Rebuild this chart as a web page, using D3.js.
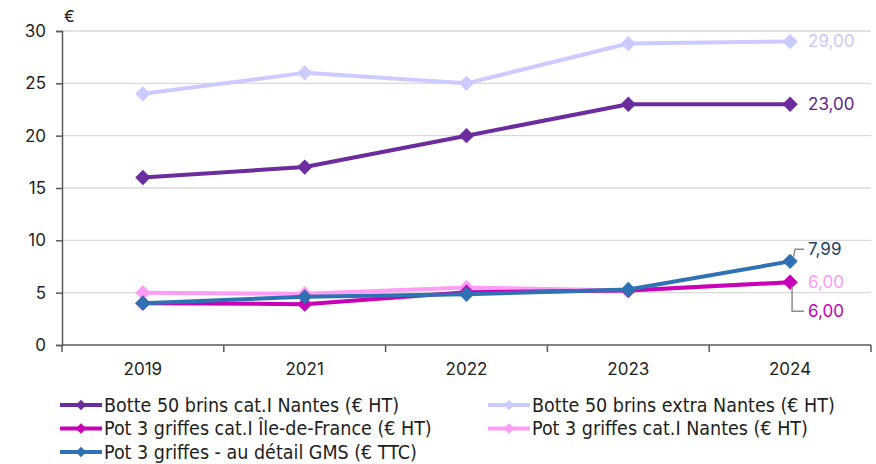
<!DOCTYPE html>
<html>
<head>
<meta charset="utf-8">
<script src="https://cdn.jsdelivr.net/npm/d3@7"></script>
<style>
  body { margin: 0; background: #fff; }
  svg { display: block; }
</style>
</head>
<body>
<script>
// data
var years = ["2019", "2021", "2022", "2023", "2024"];
var botteCatI = [16, 17, 20, 23, 23];
var botteExtra = [24, 26, 25, 28.8, 29];
var potIdf = [4, 3.9, 5.05, 5.2, 6];
var potNantes = [5, 4.9, 5.5, 5.2, 6];
var potGms = [4, 4.6, 4.85, 5.3, 7.99];
var yTicks = [0, 5, 10, 15, 20, 25, 30];

var series = [
  {name: "Botte 50 brins extra Nantes (€ HT)", values: botteExtra, color: "#cccbff", labelColor: "#c9c8fb"},
  {name: "Pot 3 griffes cat.I Nantes (€ HT)", values: potNantes, color: "#ff9cf5", labelColor: "#fc9bf2"},
  {name: "Pot 3 griffes cat.I Île-de-France (€ HT)", values: potIdf, color: "#c800b8", labelColor: "#c400b4"},
  {name: "Pot 3 griffes - au détail GMS (€ TTC)", values: potGms, color: "#2e72b3", labelColor: "#1d3f66"},
  {name: "Botte 50 brins cat.I Nantes (€ HT)", values: botteCatI, color: "#6b2c9e", labelColor: "#5e2590"}
];

var width = 876, height = 464;
var margin = {left: 62, right: 5, top: 31, bottom: 119};

var svg = d3.select("body").append("svg")
    .attr("width", width)
    .attr("height", height);

var x = d3.scaleBand()
    .domain(years)
    .range([margin.left, width - margin.right]);

var y = d3.scaleLinear()
    .domain([0, 30])
    .range([height - margin.bottom, margin.top]);

// grid
svg.append("g")
    .selectAll("line")
    .data(yTicks.filter(function(d) { return d > 0; }))
    .enter().append("line")
    .attr("x1", margin.left)
    .attr("x2", width - margin.right)
    .attr("y1", function(d) { return y(d); })
    .attr("y2", function(d) { return y(d); })
    .attr("stroke", "#d9d9d9")
    .attr("stroke-width", 1.3);

// y axis
var yAxis = svg.append("g")
    .attr("transform", "translate(" + margin.left + ",0)")
    .call(d3.axisLeft(y).tickValues(yTicks).tickSize(6).tickPadding(10));
yAxis.select(".domain").attr("stroke", "#595959").attr("stroke-width", 1.5);
yAxis.selectAll(".tick line").attr("stroke", "#595959").attr("stroke-width", 1.5);
yAxis.selectAll("text")
    .attr("font-family", "Inter, 'Open Sans', sans-serif")
    .attr("font-size", 17)
    .attr("fill", "#1e1e1e");

// x axis with ticks at band edges
var xAxisG = svg.append("g")
    .attr("transform", "translate(0," + y(0) + ")");
xAxisG.append("line")
    .attr("x1", margin.left).attr("x2", width - margin.right)
    .attr("stroke", "#595959").attr("stroke-width", 1.5);
var edges = years.map(function(d) { return x(d); }).concat([x.range()[1]]);
xAxisG.selectAll(".edge")
    .data(edges)
    .enter().append("line")
    .attr("class", "edge")
    .attr("x1", function(d) { return d; })
    .attr("x2", function(d) { return d; })
    .attr("y1", 0).attr("y2", 7)
    .attr("stroke", "#595959").attr("stroke-width", 1.5);
xAxisG.selectAll("text")
    .data(years)
    .enter().append("text")
    .attr("x", function(d) { return x(d) + x.bandwidth() / 2; })
    .attr("y", 30)
    .attr("text-anchor", "middle")
    .attr("font-family", "Inter, 'Open Sans', sans-serif")
    .attr("font-size", 17)
    .attr("fill", "#1e1e1e")
    .text(function(d) { return d; });

// unit
svg.append("text")
    .attr("x", 64).attr("y", 22)
    .attr("font-family", "Inter, 'Open Sans', sans-serif")
    .attr("font-size", 16)
    .attr("fill", "#1e1e1e")
    .text("€");

var cx = function(i) { return x(years[i]) + x.bandwidth() / 2; };

var line = d3.line()
    .x(function(d, i) { return cx(i); })
    .y(function(d) { return y(d); });

var diamond = d3.symbol().type(d3.symbolDiamond2).size(150);

series.forEach(function(s) {
  var g = svg.append("g");
  g.append("path")
      .datum(s.values)
      .attr("d", line)
      .attr("fill", "none")
      .attr("stroke", s.color)
      .attr("stroke-width", 4)
      .attr("stroke-linejoin", "round");
  g.selectAll("path.pt")
      .data(s.values)
      .enter().append("path")
      .attr("class", "pt")
      .attr("d", diamond)
      .attr("transform", function(d, i) { return "translate(" + cx(i) + "," + y(d) + ")"; })
      .attr("fill", s.color);
});

// end labels
var last = years.length - 1;
var lx = cx(last);
function fmt(v) { return d3.format(".2f")(v).replace(".", ","); }
var labelFont = "Inter, 'Open Sans', sans-serif";

function endLabel(s, ly) {
  svg.append("text")
      .attr("x", lx + 18)
      .attr("y", ly)
      .attr("dy", "0.35em")
      .attr("font-family", labelFont)
      .attr("font-size", 17)
      .attr("fill", s.labelColor)
      .text(fmt(s.values[last]));
}

endLabel(series[0], y(botteExtra[last]));
endLabel(series[4], y(botteCatI[last]));
endLabel(series[1], y(potNantes[last]));

// leader for GMS
var gmsY = y(potGms[last]);
svg.append("path")
    .attr("d", "M" + (lx + 3) + "," + (gmsY - 3) + "L" + (lx + 5) + "," + (gmsY - 12) + "L" + (lx + 14) + "," + (gmsY - 12))
    .attr("fill", "none").attr("stroke", "#8c8c8c").attr("stroke-width", 1.5);
endLabel(series[3], gmsY - 12);

// leader for Île-de-France
var idfY = y(potIdf[last]);
svg.append("path")
    .attr("d", "M" + (lx + 2) + "," + (idfY + 4) + "L" + (lx + 2) + "," + (idfY + 29) + "L" + (lx + 14) + "," + (idfY + 29))
    .attr("fill", "none").attr("stroke", "#8c8c8c").attr("stroke-width", 1.5);
endLabel(series[2], idfY + 29);

// legend
var legendItems = [
  {s: series[4], col: 0, row: 0},
  {s: series[0], col: 1, row: 0},
  {s: series[2], col: 0, row: 1},
  {s: series[1], col: 1, row: 1},
  {s: series[3], col: 0, row: 2}
];
var legend = svg.append("g");
var leg = legend.selectAll("g")
    .data(legendItems)
    .enter().append("g")
    .attr("transform", function(d) {
      return "translate(" + (d.col === 0 ? 60 : 488) + "," + (405 + d.row * 23.5) + ")";
    });
leg.append("line")
    .attr("x1", 0).attr("x2", 42)
    .attr("stroke", function(d) { return d.s.color; })
    .attr("stroke-width", 4);
leg.append("path")
    .attr("d", d3.symbol().type(d3.symbolDiamond2).size(70))
    .attr("transform", "translate(21,0)")
    .attr("fill", function(d) { return d.s.color; });
leg.append("text")
    .attr("x", 44)
    .attr("dy", "0.35em")
    .attr("font-family", "'Liberation Sans Narrow', 'DejaVu Sans Condensed', sans-serif")
    .attr("font-size", 19.5)
    .attr("fill", "#1e1e1e")
    .text(function(d) { return d.s.name; });
</script>
</body>
</html>
